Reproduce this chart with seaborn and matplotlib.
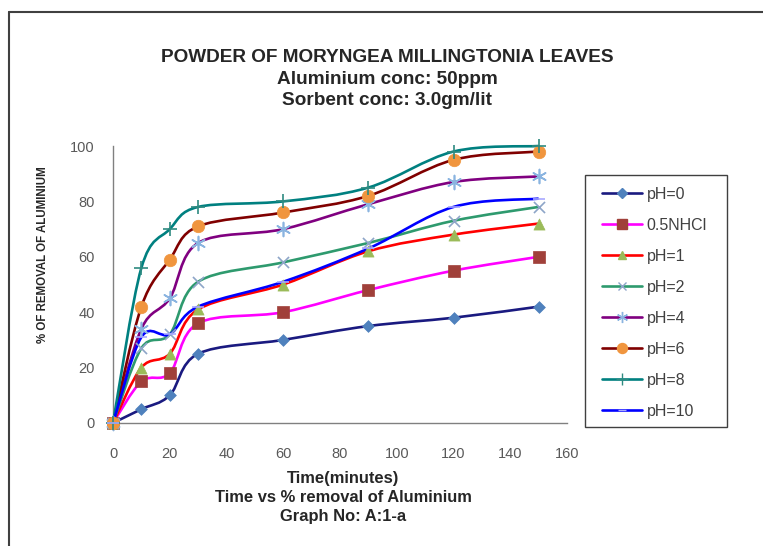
import numpy as np
import pandas as pd
import matplotlib
matplotlib.use("Agg")
import matplotlib.pyplot as plt
import seaborn as sns
from matplotlib.path import Path
from matplotlib.patches import PathPatch, Rectangle
from matplotlib.lines import Line2D

# ---- data ----
time_min = [0, 10, 20, 30, 60, 90, 120, 150]
series_names = ["pH=0", "0.5NHCl", "pH=1", "pH=2", "pH=4", "pH=6", "pH=8", "pH=10"]
ph0 = [0, 5, 10, 25, 30, 35, 38, 42]
nhcl = [0, 15, 18, 36, 40, 48, 55, 60]
ph1 = [0, 20, 25, 41, 50, 62, 68, 72]
ph2 = [0, 27, 32, 51, 58, 65, 73, 78]
ph4 = [0, 34, 45, 65, 70, 79, 87, 89]
ph6 = [0, 42, 59, 71, 76, 82, 95, 98]
ph8 = [0, 56, 70, 78, 80, 85, 98, 100]
ph10 = [0, 31, 32, 42, 51, 63, 78, 81]
x_ticks = [0, 20, 40, 60, 80, 100, 120, 140, 160]
y_ticks = [0, 20, 40, 60, 80, 100]

values = [ph0, nhcl, ph1, ph2, ph4, ph6, ph8, ph10]

# ---- styles ----
line_colors = ["#1a1a80", "#ff00ff", "#ff0000", "#2e9a6e", "#800080", "#800000", "#008080", "#0000ff"]
marker_colors = ["#4f81bd", "#a0403a", "#9bbb59", "#8ea5c8", "#8ab4e0", "#f0953e", "#2e8a80", "#a8a8ff"]
markers = ["D", "s", "^", "x", (6, 2, 0), "o", "+", "_"]
msizes = [6, 9, 8, 8, 10, 9, 10, 8]

W, H = 763, 546
fig = plt.figure(figsize=(W / 100, H / 100), dpi=100)
sns.set_style("white")
plt.rcParams['font.family'] = ['Liberation Sans', 'DejaVu Sans']

ax = fig.add_axes([113 / W, 1 - 423 / H, (567 - 113) / W, (423 - 146) / H])
ax.set_xlim(0, 160)
ax.set_ylim(0, 100)


def smooth_path(xs, ys):
    pts = np.column_stack([xs, ys]).astype(float)
    n = len(pts)
    verts = [pts[0]]
    codes = [Path.MOVETO]
    for i in range(n - 1):
        p0 = pts[i - 1] if i > 0 else pts[i]
        p1 = pts[i]
        p2 = pts[i + 1]
        p3 = pts[i + 2] if i + 2 < n else pts[i + 1]
        c1 = p1 + (p2 - p0) / 6.0
        c2 = p2 - (p3 - p1) / 6.0
        verts += [c1, c2, p2]
        codes += [Path.CURVE4] * 3
    return Path(verts, codes)


handles = []
for i, (name, vals) in enumerate(zip(series_names, values)):
    patch = PathPatch(smooth_path(time_min, vals), facecolor="none", edgecolor=line_colors[i],
                      lw=1.9, zorder=2 + i * 0.1, transform=ax.transData, clip_on=False)
    ax.add_patch(patch)
    df = pd.DataFrame({"t": time_min, "v": vals})
    mk = markers[i]
    filled = mk in ("D", "s", "^", "o")
    if filled:
        sns.scatterplot(data=df, x="t", y="v", marker=mk, s=msizes[i] ** 2,
                        color=marker_colors[i], edgecolor=marker_colors[i], linewidth=0.5,
                        ax=ax, zorder=3 + i * 0.1, clip_on=False, legend=False)
    else:
        sns.scatterplot(data=df, x="t", y="v", marker=mk, s=msizes[i] ** 2,
                        color=marker_colors[i], linewidth=1.2,
                        ax=ax, zorder=3 + i * 0.1, clip_on=False, legend=False)
    handles.append(Line2D([0], [0], color=line_colors[i], lw=1.9, marker=mk,
                          markersize=msizes[i] * 0.8, markerfacecolor=marker_colors[i],
                          markeredgecolor=marker_colors[i], markeredgewidth=1.0))

ax.set_xticks(x_ticks)
ax.set_yticks(y_ticks)
for s in ["top", "right"]:
    ax.spines[s].set_visible(False)
for s in ["left", "bottom"]:
    ax.spines[s].set_color("#808080")
    ax.spines[s].set_linewidth(1.0)
ax.tick_params(axis="both", direction="out", length=5, width=1, color="#808080",
               labelcolor="#595959", labelsize=10.5, pad=8)
ax.tick_params(axis="x", pad=12)
ax.set_xlabel("")
ax.set_ylabel("")
ax.grid(False)

# legend box drawn separately, entries placed inside
fig.add_artist(Rectangle((585 / W, 1 - 427 / H), (727 - 585) / W, (427 - 175) / H,
                         transform=fig.transFigure, facecolor="white", edgecolor="#404040",
                         lw=1.0, zorder=1))
leg = fig.legend(handles=handles, labels=series_names, loc="upper left",
                 bbox_to_anchor=(602 / W, 1 - 187 / H), frameon=False, fontsize=11.5,
                 handlelength=2.5, labelspacing=1.0, borderpad=0.0, handletextpad=0.3,
                 borderaxespad=0)
leg.set_zorder(2)
for t in leg.get_texts():
    t.set_color("#404040")

cx = 387 / W
fs_t = 13.7
fig.text(cx, 1 - 62 / H, "POWDER OF MORYNGEA MILLINGTONIA LEAVES", ha="center", va="baseline",
         fontsize=fs_t, fontweight="bold")
fig.text(cx, 1 - 84 / H, "Aluminium conc: 50ppm", ha="center", va="baseline",
         fontsize=fs_t, fontweight="bold")
fig.text(cx, 1 - 105 / H, "Sorbent conc: 3.0gm/lit", ha="center", va="baseline",
         fontsize=fs_t, fontweight="bold")

bx = 343 / W
fs_b = 11.9
fig.text(bx, 1 - 483 / H, "Time(minutes)", ha="center", va="baseline",
         fontsize=fs_b, fontweight="bold")
fig.text(bx, 1 - 502 / H, "Time vs % removal of Aluminium", ha="center", va="baseline",
         fontsize=fs_b, fontweight="bold")
fig.text(bx, 1 - 521 / H, "Graph No: A:1-a", ha="center", va="baseline",
         fontsize=fs_b, fontweight="bold")

fig.text(43 / W, 1 - 255 / H, "% OF REMOVAL OF ALUMINIUM", ha="center", va="center",
         rotation=90, fontsize=8.3, fontweight="bold")

# outer frame (left and top edges visible)
fig.add_artist(Line2D([9 / W, 9 / W], [0, 1 - 12 / H], transform=fig.transFigure,
                      color="#404040", lw=1.5))
fig.add_artist(Line2D([9 / W, 1], [1 - 12 / H, 1 - 12 / H], transform=fig.transFigure,
                      color="#404040", lw=1.5))

fig.savefig("out.png", dpi=100)
